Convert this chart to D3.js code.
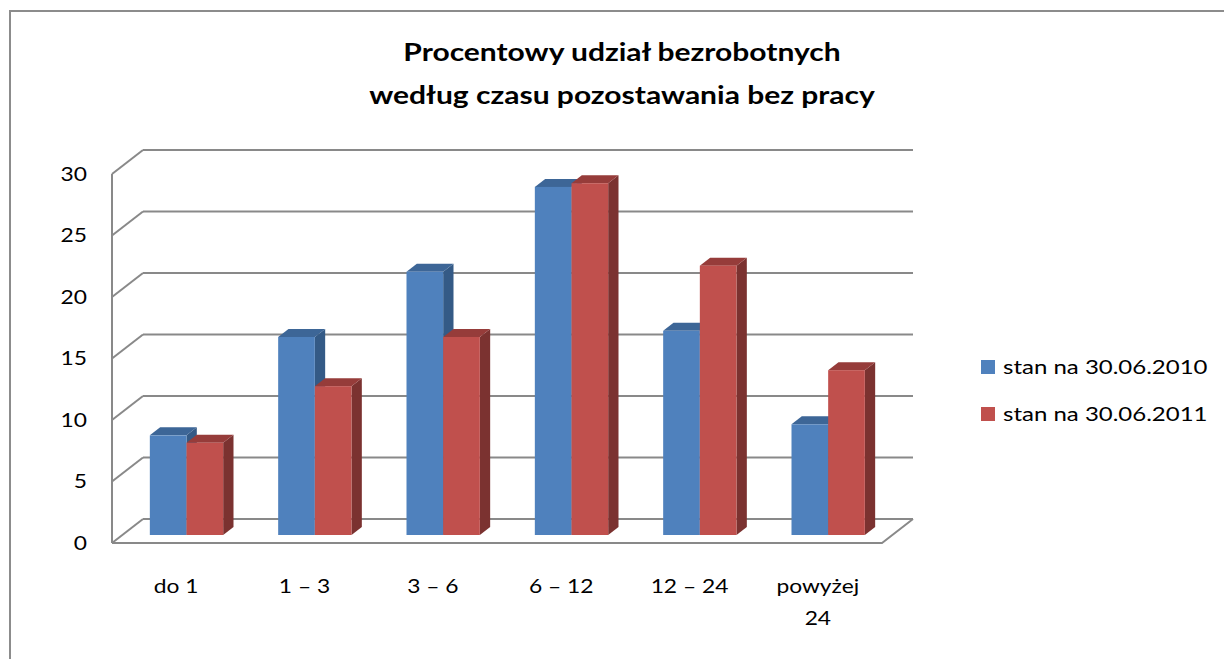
<!DOCTYPE html>
<html>
<head>
<meta charset="utf-8">
<script src="https://cdn.jsdelivr.net/npm/d3@7"></script>
<style>
  body { margin: 0; background: #fff; }
  text { font-family: Lato, "Open Sans", sans-serif; fill: #000; }
</style>
</head>
<body>
<div id="chart"></div>
<script>
// Chart data
var categories = ["do 1", "1 – 3", "3 – 6", "6 – 12", "12 – 24", "powyżej 24"];
var series = ["stan na 30.06.2010", "stan na 30.06.2011"];
var values2010 = [8.1, 16.1, 21.4, 28.3, 16.6, 9.0];
var values2011 = [7.5, 12.1, 16.1, 28.6, 21.9, 13.4];
var yTicks = [0, 5, 10, 15, 20, 25, 30];

var titleLines = ["Procentowy udział bezrobotnych", "według czasu pozostawania bez pracy"];

var svgWidth = 1224;
var svgHeight = 659;

// front plane of the 3D box
var front = { left: 112, right: 882, bottom: 543, top: 174 };
// depth of the box (front -> back wall)
var depth = { dx: 31, dy: -24 };

var faceColors = [
  { front: "#4F81BD", top: "#3D6697", side: "#345A86" },
  { front: "#C0504D", top: "#963C3A", side: "#7B3230" }
];
var gridColor = "#898989";
// the source text is drawn a bit wide
var textStretch = 1.2;

var svg = d3.select("#chart").append("svg")
  .attr("width", svgWidth)
  .attr("height", svgHeight);

// outer chart border (runs off the right and bottom)
svg.append("rect")
  .attr("x", 10)
  .attr("y", 11)
  .attr("width", 1400)
  .attr("height", 900)
  .attr("fill", "none")
  .attr("stroke", "#8c8c8c")
  .attr("stroke-width", 2);

// scales
var yScale = d3.scaleLinear().domain([0, 30]).range([front.bottom, front.top]);
var xScale = d3.scaleBand()
  .domain(categories)
  .range([front.left, front.right])
  .paddingInner(3 / 7)
  .paddingOuter(3 / 14);
var xInner = d3.scaleBand().domain(series).range([0, xScale.bandwidth()]);

// project a point at depth fraction f (0 front, 1 back)
function px(x, f) { return x + depth.dx * f; }
function py(y, f) { return y + depth.dy * f; }

function place(x, y) {
  return `translate(${x},${y}) scale(${textStretch},1)`;
}

// gridlines: back wall + left side wall
var grid = svg.append("g");
yTicks.forEach(function(t) {
  var yb = py(yScale(t), 1);
  grid.append("line")
    .attr("x1", px(front.left, 1)).attr("x2", px(front.right, 1))
    .attr("y1", yb).attr("y2", yb)
    .attr("stroke", gridColor).attr("stroke-width", 2);
  grid.append("line")
    .attr("x1", px(front.left, 1)).attr("y1", yb)
    .attr("x2", front.left).attr("y2", yScale(t))
    .attr("stroke", gridColor).attr("stroke-width", 2);
});

// floor front + right edge
grid.append("path")
  .attr("d", `M${front.left},${front.bottom}H${front.right}L${px(front.right, 1)},${py(front.bottom, 1)}`)
  .attr("fill", "none")
  .attr("stroke", gridColor).attr("stroke-width", 2);

// vertical axis line
grid.append("line")
  .attr("x1", front.left).attr("x2", front.left)
  .attr("y1", front.top).attr("y2", front.bottom)
  .attr("stroke", gridColor).attr("stroke-width", 2);

// y tick labels
svg.append("g").selectAll("text")
  .data(yTicks)
  .enter()
  .append("text")
  .attr("transform", d => place(87, yScale(d)))
  .attr("dy", "0.35em")
  .attr("text-anchor", "end")
  .attr("font-size", "19px")
  .text(d => d);

// bars (front face at depth 1/3, back at 2/3)
var f0 = 1 / 3, f1 = 2 / 3;
var bars = svg.append("g");
categories.forEach(function(cat, i) {
  [values2010[i], values2011[i]].forEach(function(v, s) {
    var c = faceColors[s];
    var x0 = px(xScale(cat) + xInner(series[s]), f0);
    var x1 = x0 + xInner.bandwidth();
    var yTop = py(yScale(v), f0);
    var yBot = py(yScale(0), f0);
    var ddx = depth.dx * (f1 - f0), ddy = depth.dy * (f1 - f0);

    // side face
    bars.append("path")
      .attr("d", `M${x1},${yTop}L${x1 + ddx},${yTop + ddy}L${x1 + ddx},${yBot + ddy}L${x1},${yBot}Z`)
      .attr("fill", c.side);
    // top face
    bars.append("path")
      .attr("d", `M${x0},${yTop}L${x0 + ddx},${yTop + ddy}L${x1 + ddx},${yTop + ddy}L${x1},${yTop}Z`)
      .attr("fill", c.top);
    // front face
    bars.append("rect")
      .attr("x", x0).attr("y", yTop)
      .attr("width", x1 - x0).attr("height", yBot - yTop)
      .attr("fill", c.front);
  });
});

// category labels (front plane)
var catLabels = svg.append("g").selectAll("text")
  .data(categories)
  .enter()
  .append("text")
  .attr("transform", d => place(xScale(d) + xScale.bandwidth() / 2, 593))
  .attr("text-anchor", "middle")
  .attr("font-size", "19px");

catLabels.each(function(d) {
  var el = d3.select(this);
  var parts = d === "powyżej 24" ? ["powyżej", "24"] : [d];
  parts.forEach(function(p, k) {
    el.append("tspan")
      .attr("x", 0)
      .attr("dy", k === 0 ? 0 : 32)
      .text(p);
  });
});

// title
svg.append("g").selectAll("text")
  .data(titleLines)
  .enter()
  .append("text")
  .attr("transform", (d, i) => place(622, 61 + i * 43))
  .attr("text-anchor", "middle")
  .attr("font-size", "25px")
  .attr("font-weight", "bold")
  .text(d => d);

// legend
var legend = svg.append("g").selectAll("g")
  .data(series)
  .enter()
  .append("g")
  .attr("transform", (d, i) => `translate(981, ${360 + i * 47})`);

legend.append("rect")
  .attr("width", 14)
  .attr("height", 14)
  .attr("fill", (d, i) => faceColors[i].front);

legend.append("text")
  .attr("transform", place(22, 14))
  .attr("font-size", "20px")
  .text(d => d);
</script>
</body>
</html>
